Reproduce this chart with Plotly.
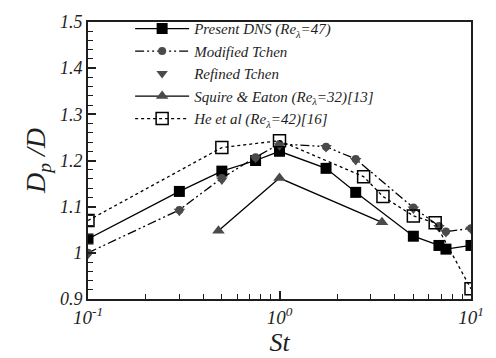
import plotly.graph_objects as go

# Present DNS
dns_st = [0.1, 0.3, 0.5, 0.75, 1.0, 1.75, 2.5, 5.0, 6.8, 7.4, 10.0]
dns_d = [1.03, 1.133, 1.177, 1.2, 1.22, 1.183, 1.131, 1.036, 1.016, 1.008, 1.016]

# Modified Tchen
mt_st = [0.1, 0.3, 0.5, 0.75, 1.0, 1.75, 2.5, 5.0, 6.8, 7.4, 10.0]
mt_d = [1.0, 1.093, 1.162, 1.207, 1.236, 1.23, 1.203, 1.098, 1.058, 1.046, 1.053]

# Refined Tchen
rt_st = [0.1, 0.3, 0.5, 0.75, 1.0, 1.75, 2.5, 5.0, 6.8, 7.4, 10.0]
rt_d = [0.997, 1.09, 1.158, 1.205, 1.232, 1.228, 1.2, 1.095, 1.055, 1.044, 1.051]

# Squire & Eaton
se_st = [0.48, 1.0, 3.43]
se_d = [1.048, 1.162, 1.066]

# He et al
he_st = [0.1, 0.5, 1.0, 2.75, 3.47, 5.0, 6.5, 10.0]
he_d = [1.07, 1.228, 1.243, 1.165, 1.122, 1.08, 1.065, 0.922]

x_ticks = [0.1, 1, 10]
x_ticktext = ["<i>10<sup>-1</sup></i>", "<i>10<sup>0</sup></i>", "<i>10<sup>1</sup></i>"]
x_minor = [0.2, 0.3, 0.4, 0.5, 0.6, 0.7, 0.8, 0.9, 2, 3, 4, 5, 6, 7, 8, 9]
y_ticks = [0.9, 1.0, 1.1, 1.2, 1.3, 1.4, 1.5]
y_ticktext = ["<i>0.9</i>", "<i>1</i>", "<i>1.1</i>", "<i>1.2</i>", "<i>1.3</i>", "<i>1.4</i>", "<i>1.5</i>"]

FONT = "'Liberation Serif', 'Times New Roman', serif"
grey = "#4a4a4a"
ink = "#1e1e1e"

fig = go.Figure()
fig.add_trace(go.Scatter(
    x=dns_st, y=dns_d, mode="lines+markers",
    name="<i>Present DNS (Re<sub>λ</sub>=47)</i>",
    line=dict(color="black", width=1.3),
    marker=dict(symbol="square", size=11, color="black")))
fig.add_trace(go.Scatter(
    x=mt_st, y=mt_d, mode="lines+markers",
    name="<i>Modified Tchen</i>",
    line=dict(color="black", width=1.3, dash="9px,3px,2px,3px,2px,3px"),
    marker=dict(symbol="circle", size=8, color=grey)))
fig.add_trace(go.Scatter(
    x=rt_st, y=rt_d, mode="markers",
    name="<i>Refined Tchen</i>",
    marker=dict(symbol="triangle-down", size=10, color=grey)))
fig.add_trace(go.Scatter(
    x=se_st, y=se_d, mode="lines+markers",
    name="<i>Squire & Eaton (Re<sub>λ</sub>=32)[13]</i>",
    line=dict(color="black", width=1.3),
    marker=dict(symbol="triangle-up", size=11, color=grey)))
fig.add_trace(go.Scatter(
    x=he_st, y=he_d, mode="lines+markers",
    name="<i>He et al (Re<sub>λ</sub>=42)[16]</i>",
    line=dict(color="black", width=1.3, dash="dot"),
    marker=dict(symbol="square-open", size=12, color="black", line=dict(width=1.5))))

fig.update_layout(
    width=496, height=358,
    margin=dict(l=88, r=12, t=12, b=56),
    paper_bgcolor="white", plot_bgcolor="white",
    font=dict(family=FONT, color=ink),
    showlegend=True,
    legend=dict(x=0.11, y=1.035, xanchor="left", yanchor="top",
                bgcolor="rgba(0,0,0,0)",
                font=dict(family=FONT, size=15, color=ink),
                itemwidth=54, tracegroupgap=0),
    xaxis=dict(type="log", range=[-1, 1],
               tickmode="array", tickvals=x_ticks, ticktext=x_ticktext,
               ticks="inside", ticklen=8, tickwidth=1.5, tickcolor=ink,
               minor=dict(tickmode="array", tickvals=x_minor, ticks="inside",
                          ticklen=5, tickwidth=1.2, tickcolor=ink),
               showline=True, linewidth=2, linecolor=ink, mirror=True,
               showgrid=False, zeroline=False,
               tickfont=dict(family=FONT, size=19, color=ink),
               title=dict(text="<i>St</i>", standoff=0,
                          font=dict(family=FONT, size=26, color=ink))),
    yaxis=dict(range=[0.9, 1.5],
               tickmode="array", tickvals=y_ticks, ticktext=y_ticktext,
               ticks="inside", ticklen=8, tickwidth=1.5, tickcolor=ink,
               minor=dict(dtick=0.02, ticks="inside", ticklen=5, tickwidth=1.2,
                          tickcolor=ink),
               showline=True, linewidth=2, linecolor=ink, mirror=True,
               showgrid=False, zeroline=False,
               tickfont=dict(family=FONT, size=18, color=ink),
               title=dict(text="<i>D<sub>p</sub> /D</i>", standoff=6,
                          font=dict(family=FONT, size=28, color=ink))),
)

fig.write_html("out.html")
